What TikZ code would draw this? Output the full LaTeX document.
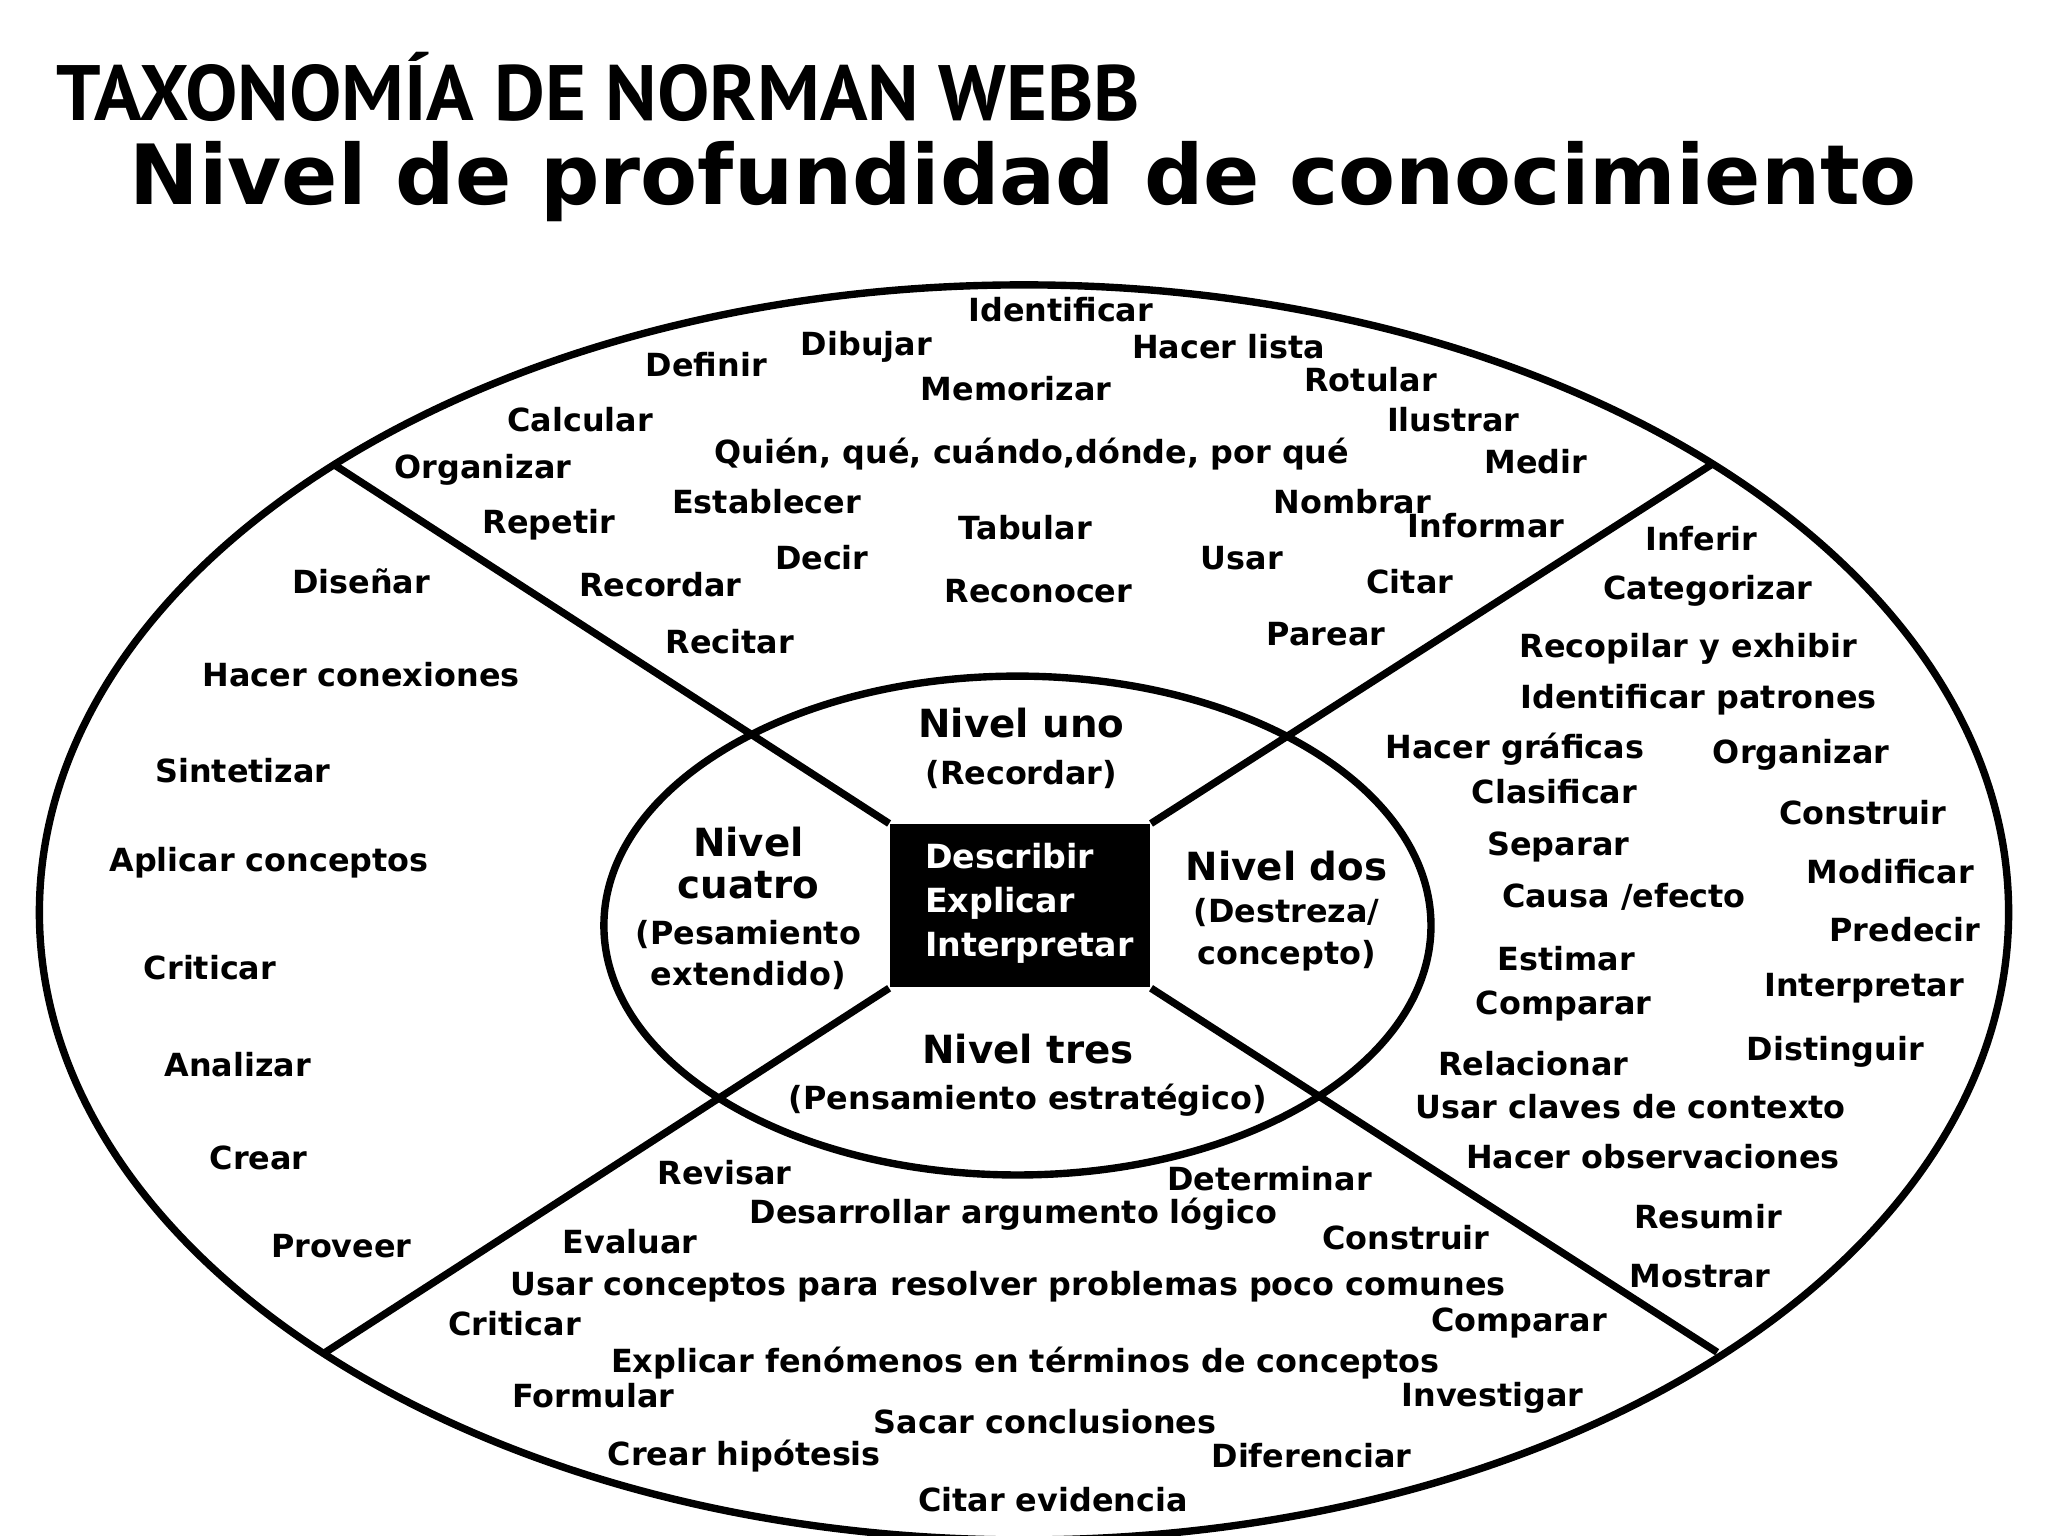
\documentclass[tikz,border=0pt]{standalone}
\usepackage{fontspec}
\setmainfont{DejaVu Sans}
\newfontfamily\titlefont{PT Sans}
\begin{document}
\begin{tikzpicture}[x=0.01cm,y=-0.01cm,
  wd/.style={font=\bfseries\fontsize{6.9}{7.5}\selectfont,inner sep=0pt},
  lvl/.style={font=\bfseries\fontsize{7.6}{9}\selectfont,align=center,inner sep=0pt},
  ln/.style={line width=1.6pt}]
\useasboundingbox (0,0) rectangle (1560,1170);
\node[anchor=west,inner sep=0pt,font=\titlefont\bfseries\fontsize{17}{18}\selectfont] (t1) at (42,66) {TAXONOMÍA DE NORMAN WEBB};
\node[anchor=west,inner sep=0pt,font=\bfseries\fontsize{18}{20}\selectfont] (t2) at (98,138) {Nivel de profundidad de conocimiento};
\draw[ln] (780,695) ellipse [x radius=750,y radius=478];
\draw[ln] (775,705) ellipse [x radius=315,y radius=190];
\node[fill=black,minimum width=1.98cm,minimum height=1.24cm,inner sep=0pt] (box) at (777,690) {};
\coordinate (o1) at (253,353); \coordinate (o2) at (1305,353);
\coordinate (o3) at (248,1030); \coordinate (o4) at (1308,1030);
\draw[ln] (box.north west) -- (o1);
\draw[ln] (box.north east) -- (o2);
\draw[ln] (box.south west) -- (o3);
\draw[ln] (box.south east) -- (o4);
\node[lvl,text=white,align=left,font=\bfseries\fontsize{7.2}{8.6}\selectfont] (bt) at (784,688) {Describir\\[1pt]Explicar\\[1pt]Interpretar};
\node[lvl] (l1) at (778,570) {{\fontsize{8.4}{9.6}\selectfont Nivel uno}\\[1pt]{\fontsize{6.9}{8}\selectfont(Recordar)}};
\node[lvl] (l4) at (570,692) {{\fontsize{8.4}{9.6}\selectfont Nivel}\\{\fontsize{8.4}{9.6}\selectfont cuatro}\\[1pt]{\fontsize{6.9}{8}\selectfont(Pesamiento}\\{\fontsize{6.9}{8}\selectfont extendido)}};
\node[lvl] (l2) at (980,694) {{\fontsize{8.4}{9.6}\selectfont Nivel dos}\\{\fontsize{6.9}{8}\selectfont(Destreza/}\\{\fontsize{6.9}{8}\selectfont concepto)}};
\node[lvl] (l3) at (783,819) {{\fontsize{8.4}{9.6}\selectfont Nivel tres}\\[1pt]{\fontsize{6.9}{8}\selectfont(Pensamiento estratégico)}};
\foreach \x/\y/\t [count=\i] in {
808/236/Identificar, 660/264/Dibujar, 936/264/Hacer lista, 538/278/Definir, 774/296/Memorizar,
1044/289/Rotular, 442/320/Calcular, 1107/320/Ilustrar, 368/358/Organizar,
786/346/{Quién, qué, cuándo,dónde, por qué}, 1170/352/Medir, 584/382/Establecer, 1030/382/Nombrar,
418/400/Repetir, 781/402/Tabular, 1132/400/Informar, 626/425/Decir, 946/425/Usar, 503/445/Recordar,
791/450/Reconocer, 1074/443/Citar, 556/489/Recitar, 1010/483/Parear,
1296/410/Inferir, 1301/450/Categorizar, 1286/494/Recopilar y exhibir, 1294/533/Identificar patrones,
1154/571/Hacer gráficas, 1372/575/Organizar, 1184/603/Clasificar, 1419/619/Construir, 1187/645/Separar,
1440/664/Modificar, 1237/683/{Causa /efecto}, 1451/708/Predecir, 1193/730/Estimar, 1420/753/Interpretar,
1191/766/Comparar, 1398/801/Distinguir, 1168/810/Relacionar, 1242/843/Usar claves de contexto,
1259/881/Hacer observaciones, 1301/927/Resumir, 1295/972/Mostrar,
275/443/Diseñar, 275/514/Hacer conexiones, 185/587/Sintetizar, 205/657/Aplicar conceptos,
160/737/Criticar, 181/811/Analizar, 197/882/Crear, 260/949/Proveer,
552/893/Revisar, 967/898/Determinar, 772/925/Desarrollar argumento lógico, 480/946/Evaluar,
1071/943/Construir, 768/980/Usar conceptos para resolver problemas poco comunes, 392/1008/Criticar,
1157/1008/Comparar, 781/1038/Explicar fenómenos en términos de conceptos, 452/1063/Formular,
1137/1065/Investigar, 796/1083/Sacar conclusiones, 567/1109/Crear hipótesis, 999/1109/Diferenciar,
802/1142/Citar evidencia}
  \node[wd] (w\i) at (\x,\y) {\t};
\end{tikzpicture}
\end{document}
